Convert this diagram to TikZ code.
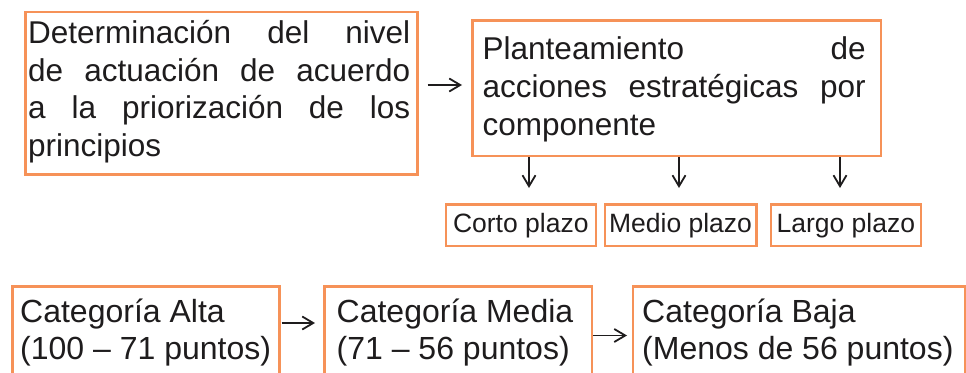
\documentclass[tikz,border=0pt]{standalone}
\usepackage{fontspec}
\setmainfont{Liberation Sans}
\usetikzlibrary{arrows.meta}
\definecolor{orng}{RGB}{246,146,88}
\definecolor{ink}{RGB}{30,28,29}
\tikzset{
  box/.style={draw=orng, line width=2.6pt, fill=white, inner sep=0pt, rectangle},
  big/.style={font=\fontsize{31.5}{37.5}\selectfont, text=ink, inner sep=0pt},
  small/.style={font=\fontsize{26.5}{30}\selectfont, text=ink, inner sep=0pt},
  cat/.style={font=\fontsize{32}{38}\selectfont, text=ink, inner sep=0pt},
  conn/.style={draw=ink, line width=1.8pt, -{Straight Barb[length=11pt,width=13pt,line width=1.8pt]}},
}
\begin{document}
\begin{tikzpicture}[x=1pt,y=-1pt]
\useasboundingbox (0,0) rectangle (966,372);
\clip (0,0) rectangle (966,372);
% top boxes
\node[box, anchor=north west, minimum width=392, minimum height=162.5] (b1) at (24,10.5) {};
\node[box, anchor=north west, minimum width=408.5, minimum height=135.5] (b2) at (471,19) {};
% text of box 1
\node[big, anchor=base west] (t11) at (28,43) {\hbox to 382pt{Determinación\hfill del\hfill nivel}};
\node[big, anchor=base west] (t12) at (28,81) {\hbox to 382pt{de\hfill actuación\hfill de\hfill acuerdo}};
\node[big, anchor=base west] (t13) at (28,118.5) {\hbox to 382pt{a\hfill la\hfill priorización\hfill de\hfill los}};
\node[big, anchor=base west] (t14) at (28,156) {principios};
% text of box 2
\node[big, anchor=base west] (t21) at (482.5,59) {\hbox to 383pt{Planteamiento\hfill de}};
\node[big, anchor=base west] (t22) at (482.5,97) {\hbox to 383pt{acciones\hfill estratégicas\hfill por}};
\node[big, anchor=base west] (t23) at (482.5,135) {componente};
% arrow 1 -> 2
\coordinate (h1) at (0,85);
\draw[conn, shorten <=9pt, shorten >=9pt] (b1.east |- h1) -- (b2.west |- h1);
% small boxes
\node[box, anchor=north west, minimum width=150, minimum height=41.5] (corto) at (444.5,203) {};
\node[box, anchor=north west, minimum width=151.5, minimum height=41.5] (medio) at (603.5,203) {};
\node[box, anchor=north west, minimum width=150, minimum height=41.5] (largo) at (769.5,203) {};
\coordinate (sb) at (0,232);
\node[small, anchor=base] (tc) at (corto.center |- sb) {Corto plazo};
\node[small, anchor=base] (tm) at (medio.center |- sb) {Medio plazo};
\node[small, anchor=base] (tl) at (largo.center |- sb) {Largo plazo};
% down arrows
\coordinate (d1) at (529,188);
\coordinate (d2) at (679,188);
\coordinate (d3) at (840,188);
\draw[conn] (b2.south -| d1) -- (d1);
\draw[conn] (b2.south -| d2) -- (d2);
\draw[conn] (b2.south -| d3) -- (d3);
% bottom boxes
\node[box, anchor=north west, minimum width=267, minimum height=110] (ca) at (11,285) {};
\node[box, anchor=north west, minimum width=267.5, minimum height=110] (cm) at (323,285) {};
\node[box, anchor=north west, minimum width=332.5, minimum height=110] (cb) at (631.5,285) {};
\node[cat, anchor=base west] (ta1) at (20,322) {Categoría Alta};
\node[cat, anchor=base west] (ta2) at (20,359) {(100 – 71 puntos)};
\node[cat, anchor=base west] (tm1) at (336.5,322) {Categoría Media};
\node[cat, anchor=base west] (tm2) at (336.5,359) {(71 – 56 puntos)};
\node[cat, anchor=base west] (tb1) at (642,322) {Categoría Baja};
\node[cat, anchor=base west] (tb2) at (642,359) {(Menos de 56 puntos)};
% bottom arrows
\coordinate (h2) at (0,323);
\coordinate (h3) at (0,335.5);
\draw[conn, shorten <=1pt, shorten >=8pt] (ca.east |- h2) -- (cm.west |- h2);
\draw[conn, shorten <=0pt, shorten >=4.5pt] (cm.east |- h3) -- (cb.west |- h3);
\end{tikzpicture}
\end{document}
